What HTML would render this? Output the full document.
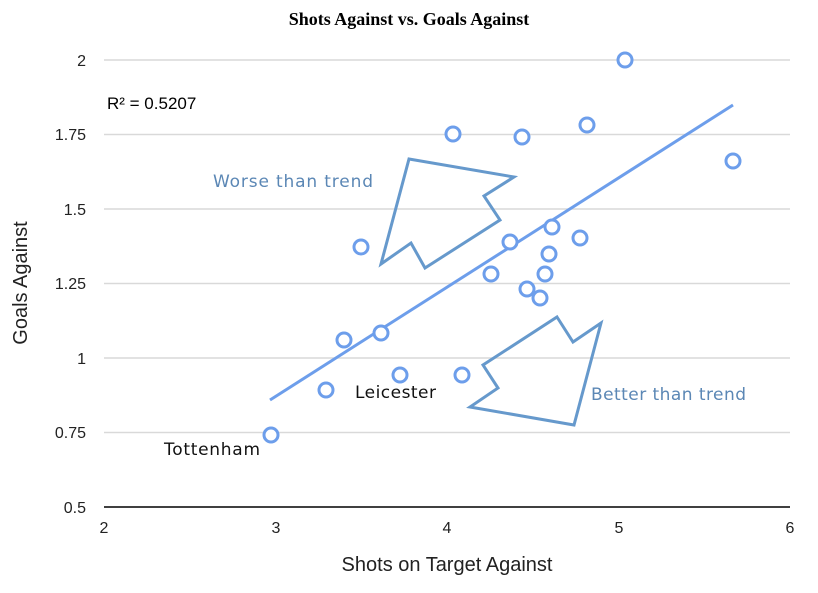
<!DOCTYPE html><html><head><style>body{margin:0;background:#fff}</style></head><body>
<svg width="818" height="588" xmlns="http://www.w3.org/2000/svg" font-family="Liberation Sans, sans-serif">
<text x="409" y="25" text-anchor="middle" font-family="Liberation Serif, serif" font-size="18" font-weight="bold">Shots Against vs. Goals Against</text>
<g stroke="#d9d9d9" stroke-width="1.5">
<line x1="104" x2="790" y1="60" y2="60"/><line x1="104" x2="790" y1="134.5" y2="134.5"/><line x1="104" x2="790" y1="209" y2="209"/><line x1="104" x2="790" y1="283.5" y2="283.5"/><line x1="104" x2="790" y1="358" y2="358"/><line x1="104" x2="790" y1="432.5" y2="432.5"/>
</g>
<line x1="104" x2="790" y1="507" y2="507" stroke="#000" stroke-width="1.5"/>
<g font-size="16" text-anchor="end" fill="#222">
<text x="86" y="66">2</text><text x="86" y="140">1.75</text><text x="86" y="215">1.5</text><text x="86" y="289">1.25</text><text x="86" y="364">1</text><text x="86" y="438">0.75</text><text x="86" y="513">0.5</text>
</g>
<g font-size="16" text-anchor="middle" fill="#222">
<text x="104" y="533">2</text><text x="276" y="533">3</text><text x="447" y="533">4</text><text x="619" y="533">5</text><text x="790" y="533">6</text>
</g>
<text x="447" y="571" text-anchor="middle" font-size="20" fill="#222">Shots on Target Against</text>
<text transform="translate(27,283) rotate(-90)" text-anchor="middle" font-size="20" fill="#222">Goals Against</text>
<text x="107" y="109" font-size="17">R² = 0.5207</text>
<line x1="270" y1="400" x2="733" y2="105" stroke="#6d9eeb" stroke-width="3"/>
<g fill="none" stroke="#6699cc" stroke-width="3">
<polygon points="409,159 514,177 484,196 500,220 425,268 411,243 381,264"/>
<polygon points="557,317 573,342 601,323 574,425 470,407 498,388 483,365"/>
</g>
<g fill="#fff" stroke="#6d9eeb" stroke-width="3">
<circle cx="271" cy="435" r="7"/><circle cx="326" cy="390" r="7"/><circle cx="344" cy="340" r="7"/><circle cx="381" cy="333" r="7"/><circle cx="361" cy="247" r="7"/><circle cx="400" cy="375" r="7"/><circle cx="462" cy="375" r="7"/><circle cx="453" cy="134" r="7"/><circle cx="522" cy="137" r="7"/><circle cx="491" cy="274" r="7"/><circle cx="510" cy="242" r="7"/><circle cx="527" cy="289" r="7"/><circle cx="540" cy="298" r="7"/><circle cx="545" cy="274" r="7"/><circle cx="549" cy="254" r="7"/><circle cx="552" cy="227" r="7"/><circle cx="580" cy="238" r="7"/><circle cx="587" cy="125" r="7"/><circle cx="625" cy="60" r="7"/><circle cx="733" cy="161" r="7"/>
</g>
<g font-family="DejaVu Sans, sans-serif" font-size="17">
<text x="213" y="187" fill="#5b87b5" textLength="160">Worse than trend</text>
<text x="591" y="400" fill="#5b87b5" textLength="155">Better than trend</text>
<text x="355" y="398" fill="#111" textLength="81">Leicester</text>
<text x="164" y="455" fill="#111" textLength="96">Tottenham</text>
</g>
</svg>
</body></html>
